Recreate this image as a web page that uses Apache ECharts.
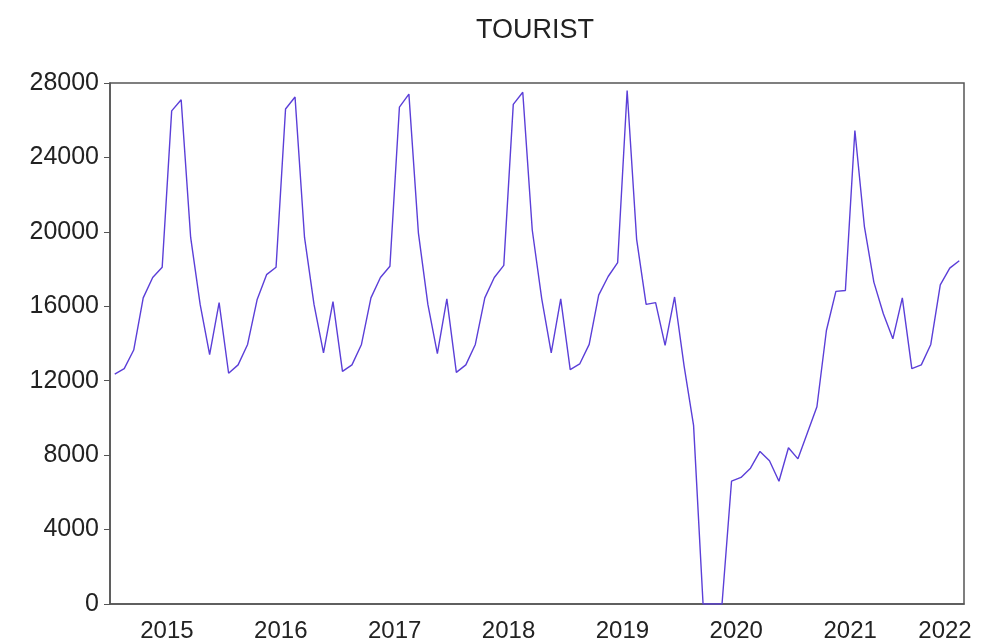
<!DOCTYPE html>
<html>
<head>
<meta charset="utf-8">
<script src="https://cdn.jsdelivr.net/npm/echarts@6/dist/echarts.min.js"></script>
<style>
html,body{margin:0;padding:0;background:#fff;}
#chart{width:984px;height:644px;}
</style>
</head>
<body>
<div id="chart"></div>
<script>
// monthly tourist arrivals, 2015M01 - 2022M06
var years = ['2015', '2016', '2017', '2018', '2019', '2020', '2021', '2022'];
var months = ['01', '02', '03', '04', '05', '06', '07', '08', '09', '10', '11', '12'];
var t2015 = [12350, 12650, 13650, 16450, 17550, 18100, 26500, 27100, 19700, 16100, 13400, 16200];
var t2016 = [12400, 12850, 13950, 16350, 17700, 18100, 26600, 27250, 19700, 16100, 13500, 16250];
var t2017 = [12500, 12850, 13950, 16450, 17550, 18150, 26700, 27400, 19950, 16100, 13450, 16400];
var t2018 = [12450, 12850, 13950, 16450, 17550, 18200, 26850, 27500, 20100, 16400, 13500, 16400];
var t2019 = [12600, 12900, 13950, 16600, 17600, 18350, 27600, 19600, 16100, 16200, 13900, 16500];
var t2020 = [12800, 9600, 0, 0, 0, 6600, 6800, 7300, 8200, 7700, 6600, 8400];
var t2021 = [7800, 9200, 10600, 14700, 16800, 16850, 25450, 20300, 17300, 15600, 14250, 16450];
var t2022 = [12650, 12850, 13950, 17150, 18050, 18450];
var yTicks = [0, 4000, 8000, 12000, 16000, 20000, 24000, 28000];

var tourist = [].concat(t2015, t2016, t2017, t2018, t2019, t2020, t2021, t2022);
var cats = [];
for (var i = 0; i < tourist.length; i++) {
	cats.push(years[Math.floor(i / 12)] + 'M' + months[i % 12]);
}
// year label sits mid-year (index 6), last partial year label near the end
function showYearLabel(idx) {
	return idx % 12 == 6 || idx == tourist.length - 2;
}

var myChart = echarts.init(document.getElementById('chart'));
var option = {
	backgroundColor: '#ffffff',
	animation: false,
	title: {
		text: 'TOURIST',
		left: 471,
		top: 12,
		textStyle: {
			fontFamily: 'Liberation Sans',
			fontWeight: 'normal',
			fontSize: 27,
			color: '#222'
		}
	},
	grid: {
		left: 110,
		right: 20,
		top: 83,
		bottom: 40,
		show: true,
		borderColor: '#555',
		borderWidth: 1.5,
		backgroundColor: '#fff'
	},
	xAxis: [{
		type: 'category',
		data: cats,
		boundaryGap: true,
		axisLine: { lineStyle: { color: '#555', width: 1.5 } },
		axisTick: { interval: 0, length: 5, lineStyle: { color: '#555' } },
		axisLabel: {
			interval: function (idx) { return showYearLabel(idx); },
			formatter: function (v) { return v.slice(0, 4); },
			fontFamily: 'Liberation Sans',
			fontSize: 24,
			color: '#222',
			margin: 15,
			padding: [0, 9.5, 0, 0]
		},
		splitLine: { show: false }
	}, {
		type: 'category',
		data: cats,
		boundaryGap: true,
		position: 'bottom',
		axisLine: { show: false },
		axisTick: {
			interval: function (idx) { return idx % 12 == 0; },
			length: 9,
			lineStyle: { color: '#555', width: 1.5 }
		},
		axisLabel: { show: false },
		splitLine: { show: false }
	}],
	yAxis: {
		type: 'value',
		min: yTicks[0],
		max: yTicks[yTicks.length - 1],
		interval: 4000,
		axisLine: { show: true, lineStyle: { color: '#555', width: 1.5 } },
		axisTick: { show: true, length: 6, lineStyle: { color: '#555' } },
		axisLabel: {
			formatter: function (v) { return String(v); },
			fontFamily: 'Liberation Sans',
			fontSize: 25,
			color: '#222',
			margin: 11
		},
		splitLine: { show: false }
	},
	series: [{
		name: 'TOURIST',
		type: 'line',
		data: tourist,
		showSymbol: false,
		lineStyle: { color: '#5b3fd8', width: 1.4 }
	}]
};
myChart.setOption(option);
</script>
</body>
</html>
